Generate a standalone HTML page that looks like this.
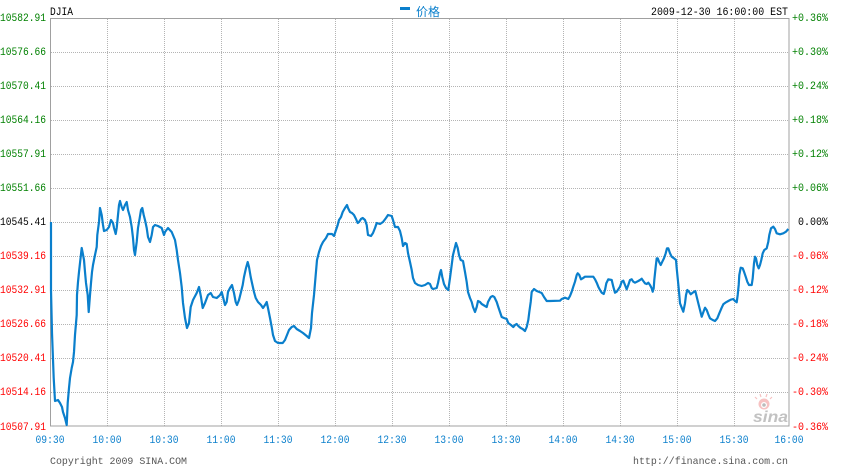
<!DOCTYPE html>
<html>
<head>
<meta charset="utf-8">
<style>
html,body{margin:0;padding:0;background:#fff;}
body{width:850px;height:468px;overflow:hidden;}
svg{display:block;}
text{font-family:"Liberation Mono","DejaVu Sans Mono",monospace;font-size:11px;}
</style>
</head>
<body>
<svg width="850" height="468" viewBox="0 0 850 468" xmlns="http://www.w3.org/2000/svg">
<rect x="0" y="0" width="850" height="468" fill="#fff"/>
<!-- grid -->
<g stroke="#b4b4b4" stroke-width="1" stroke-dasharray="1,1" shape-rendering="crispEdges" fill="none">
<path d="M51 52.5H789M51 86.5H789M51 120.5H789M51 154.5H789M51 188.5H789M51 222.5H789M51 256.5H789M51 290.5H789M51 324.5H789M51 358.5H789M51 392.5H789"/>
<path d="M107.5 19V426M164.5 19V426M221.5 19V426M278.5 19V426M335.5 19V426M392.5 19V426M449.5 19V426M506.5 19V426M563.5 19V426M620.5 19V426M677.5 19V426M734.5 19V426"/>
</g>
<!-- border -->
<rect x="50.5" y="18.5" width="738.5" height="407.5" fill="none" stroke="#a0a0a0" stroke-width="1" shape-rendering="crispEdges"/>

<!-- watermark -->
<g opacity="0.85">
<circle cx="764" cy="404" r="5.5" fill="#f6b8b8"/>
<circle cx="764" cy="405" r="3" fill="#ffffff"/>
<circle cx="764" cy="405" r="1.8" fill="#b0b0b0"/>
<path d="M757 399l-2-2M761 397l-1-3M766 397l1-3M770 399l2-2" stroke="#f6b8b8" stroke-width="1.2"/>
<text x="753" y="422" style="font-family:'Liberation Sans',sans-serif;font-size:16px;font-weight:bold;font-style:italic;" fill="#b8b8b8" textLength="35" lengthAdjust="spacingAndGlyphs">sina</text>
</g>

<!-- price line -->
<polyline fill="none" stroke="#0a7fcc" stroke-width="2.2" stroke-linejoin="round" points="51,222 51,290 52,333 53.7,378 55,401 58,400 60,403 62,407 63,412 65,418 66.7,425 67.7,403 69,388 70,378 71.7,368 73,362 74,352 75,335 76.7,315 77,295 78,282 79,272 80,263 81.7,248 82.7,253 84,260 85,272 86,283 87.7,295 88.7,312 90,295 91,283 92,272 93,265 95,255 96.7,247 97.3,235 99,222 100,208 101.7,215 103,225 104,231 106.7,230 109,227 111,220 113,223 114,228 115.7,234 116.7,228 118,215 119,205 120,201 121.7,207 123,210 125,205 126.7,202 128,210 130,217 131.7,227 133,238 134,250 135,255 136.7,242 138,228 139.7,218 141,210 142.3,208 143.7,215 145,220 146.7,228 148,237 150,242 151.7,235 153,227 155,225 158,226 161.7,228 164,235 165,232 168,228 171.7,232 175,240 176.7,250 178,260 180,273 181.7,287 183,303 185,318 187,328 189,323 190.7,307 193,300 196.7,293 199,287 201,297 202.7,308 205,303 208,295 210.7,293 213,297 216.7,298 219,296 220,295 221.7,292 223,297 225,305 226.7,302 228,292 230,288 232,285 234,293 235.7,302 237,305 239,300 241,292 242.7,285 244,277 246,268 247.7,262 249,267 250.7,277 252,283 254,292 255.7,298 258,302 261,305 263,308 265,305 266.7,302 268,308 270,318 271.7,327 273,335 275,341 278,343 282.7,343 285,340 287,335 289,330 291.7,327 294,326 296.7,329 300,331 303,333 306.7,336 309,338 311,328 312,313 314,295 315.7,275 317,260 319,252 321,246 323,242 326,238 328,234 332,234 334,236 336,230 337.7,225 339,220 341,217 342.7,212 345,208 347,205 348,208 350,212 352,213 354,215 356,219 357.7,223 359,222 361,219 362.7,218 365,220 366.7,225 368,235 371,236 373,233 375,228 376.7,223 380,224 383,222 386,218 388,215 391.7,216 393,220 395,227 398,227 400,231 401.7,238 403,246 405,243 406.7,244 408,253 410,262 411.7,270 413,278 415,283 418,285 421.7,286 425,285 428,283 430,284 431.7,288 433,289 436.7,288 438,283 440,273 441,270 442.3,277 444,284 446,288 448.3,290 450,278 451.7,265 453,255 455,247 456,243 457.7,248 459,255 460.7,260 463,261 465,272 466.7,282 468,292 470,298 471.7,302 473,307 475,312 476.7,307 478,301 480,302 481.7,304 485,306 486.7,307 488,302 490.7,297 492.7,296 494.3,297 496.7,302 498.3,307 500,312 501.7,317 504,318 506.7,319 508.3,323 511,325 513.3,327 515,325 516.7,324 518.3,326 520.7,328 522.7,329 525,331 526.7,327 528.3,320 529.3,312 530.7,302 531.7,292 534,289 536.7,291 539.3,292 541.7,293 544,297 546.7,301 550,301 560,300.7 561.7,299 565,297.7 568.3,299 570,296 571.7,291.7 573.3,286.7 575,281.7 576.7,275 577.7,273.3 579.3,275 581,279.3 582.7,278.3 585,276.7 593.3,276.7 595,279.3 596.7,282.7 598.3,286.7 600,290 601.7,292.7 603.7,294 605,290 606.3,283.3 608.3,279.3 611.7,280 613.3,286.7 615,292.7 616.7,291.7 618.3,289.3 620,286.7 621.7,281.7 623.3,280.7 625,285 626.7,289.3 628.3,285 630,280 631.7,279.3 633.3,281.7 635,282.7 638.3,281 640,280 641.7,278.7 643.3,281 645,283.3 646.7,284 648.3,282.7 650,285 651.7,288.3 652.7,291.7 653.7,288.3 654.3,280 655.7,266.7 656.7,258.3 657.7,258.3 659,261.7 660.7,265 662.3,261.7 664,258.3 665.7,253.3 667,248.3 668.3,248.3 670,253.3 671.7,256.7 674,258.3 676,260 676.7,268.3 677.7,278.3 678.7,288.3 680,303.3 681.7,307.7 683.3,311.7 685,303.3 686,295 687.3,290 689,291.7 690.7,294.3 693.3,292.3 695.3,291 696.7,296.7 698.3,303.3 700,310 701.7,316.7 703.3,312.3 705,307.7 706.7,310 708.3,314.3 710,318.3 712.7,320 715,321 717.3,318.3 719.3,313.3 721.7,307.7 723.3,304.3 726,302.3 728.3,301 730.7,299.7 733.3,299 735,301 736.7,302.3 737.7,295 738.7,285 739.3,275 740.7,267.7 742.7,268.3 744,271.7 745.7,276.7 747.3,281.7 749,285 751.7,285 752.7,278.3 754,263.3 755,256.7 756,258.3 757.3,265 758.7,268.3 760,265 761.3,260 762.7,253.3 764.3,250 766.7,248.3 768.3,241.7 769.3,235 771,228.3 773.3,226.7 775,229 776.7,233.3 780,234.3 783.3,233.3 786,231.7 788.3,229"/>

<!-- header -->
<text x="50" y="15" fill="#000" textLength="23" lengthAdjust="spacingAndGlyphs">DJIA</text>
<rect x="400" y="7" width="10" height="3" fill="#0a7fcc"/>
<text x="416" y="16" fill="#0a7fcc" style="font-family:'Liberation Sans','Noto Sans CJK SC',sans-serif;font-size:12px;">价格</text>
<text x="651" y="15" fill="#000" textLength="137" lengthAdjust="spacingAndGlyphs">2009-12-30 16:00:00 EST</text>

<!-- left axis labels -->
<g text-anchor="end">
<text x="46" y="21" fill="#008000" textLength="46" lengthAdjust="spacingAndGlyphs">10582.91</text>
<text x="46" y="55" fill="#008000" textLength="46" lengthAdjust="spacingAndGlyphs">10576.66</text>
<text x="46" y="89" fill="#008000" textLength="46" lengthAdjust="spacingAndGlyphs">10570.41</text>
<text x="46" y="123" fill="#008000" textLength="46" lengthAdjust="spacingAndGlyphs">10564.16</text>
<text x="46" y="157" fill="#008000" textLength="46" lengthAdjust="spacingAndGlyphs">10557.91</text>
<text x="46" y="191" fill="#008000" textLength="46" lengthAdjust="spacingAndGlyphs">10551.66</text>
<text x="46" y="225" fill="#000000" textLength="46" lengthAdjust="spacingAndGlyphs">10545.41</text>
<text x="46" y="259" fill="#ff0000" textLength="46" lengthAdjust="spacingAndGlyphs">10539.16</text>
<text x="46" y="293" fill="#ff0000" textLength="46" lengthAdjust="spacingAndGlyphs">10532.91</text>
<text x="46" y="327" fill="#ff0000" textLength="46" lengthAdjust="spacingAndGlyphs">10526.66</text>
<text x="46" y="361" fill="#ff0000" textLength="46" lengthAdjust="spacingAndGlyphs">10520.41</text>
<text x="46" y="395" fill="#ff0000" textLength="46" lengthAdjust="spacingAndGlyphs">10514.16</text>
<text x="46" y="430" fill="#ff0000" textLength="46" lengthAdjust="spacingAndGlyphs">10507.91</text>
</g>

<!-- right axis labels -->
<g>
<text x="792" y="21" fill="#008000" textLength="36" lengthAdjust="spacingAndGlyphs">+0.36%</text>
<text x="792" y="55" fill="#008000" textLength="36" lengthAdjust="spacingAndGlyphs">+0.30%</text>
<text x="792" y="89" fill="#008000" textLength="36" lengthAdjust="spacingAndGlyphs">+0.24%</text>
<text x="792" y="123" fill="#008000" textLength="36" lengthAdjust="spacingAndGlyphs">+0.18%</text>
<text x="792" y="157" fill="#008000" textLength="36" lengthAdjust="spacingAndGlyphs">+0.12%</text>
<text x="792" y="191" fill="#008000" textLength="36" lengthAdjust="spacingAndGlyphs">+0.06%</text>
<text x="798" y="225" fill="#000000" textLength="30" lengthAdjust="spacingAndGlyphs">0.00%</text>
<text x="792" y="259" fill="#ff0000" textLength="36" lengthAdjust="spacingAndGlyphs">-0.06%</text>
<text x="792" y="293" fill="#ff0000" textLength="36" lengthAdjust="spacingAndGlyphs">-0.12%</text>
<text x="792" y="327" fill="#ff0000" textLength="36" lengthAdjust="spacingAndGlyphs">-0.18%</text>
<text x="792" y="361" fill="#ff0000" textLength="36" lengthAdjust="spacingAndGlyphs">-0.24%</text>
<text x="792" y="395" fill="#ff0000" textLength="36" lengthAdjust="spacingAndGlyphs">-0.30%</text>
<text x="792" y="430" fill="#ff0000" textLength="36" lengthAdjust="spacingAndGlyphs">-0.36%</text>
</g>

<!-- time labels -->
<g fill="#0a7fcc" text-anchor="middle">
<text x="50" y="443" textLength="29" lengthAdjust="spacingAndGlyphs">09:30</text>
<text x="107" y="443" textLength="29" lengthAdjust="spacingAndGlyphs">10:00</text>
<text x="164" y="443" textLength="29" lengthAdjust="spacingAndGlyphs">10:30</text>
<text x="221" y="443" textLength="29" lengthAdjust="spacingAndGlyphs">11:00</text>
<text x="278" y="443" textLength="29" lengthAdjust="spacingAndGlyphs">11:30</text>
<text x="335" y="443" textLength="29" lengthAdjust="spacingAndGlyphs">12:00</text>
<text x="392" y="443" textLength="29" lengthAdjust="spacingAndGlyphs">12:30</text>
<text x="449" y="443" textLength="29" lengthAdjust="spacingAndGlyphs">13:00</text>
<text x="506" y="443" textLength="29" lengthAdjust="spacingAndGlyphs">13:30</text>
<text x="563" y="443" textLength="29" lengthAdjust="spacingAndGlyphs">14:00</text>
<text x="620" y="443" textLength="29" lengthAdjust="spacingAndGlyphs">14:30</text>
<text x="677" y="443" textLength="29" lengthAdjust="spacingAndGlyphs">15:00</text>
<text x="734" y="443" textLength="29" lengthAdjust="spacingAndGlyphs">15:30</text>
<text x="789" y="443" textLength="29" lengthAdjust="spacingAndGlyphs">16:00</text>
</g>

<!-- footer -->
<text x="50" y="464" fill="#555" style="font-size:10.5px" textLength="137" lengthAdjust="spacingAndGlyphs">Copyright 2009 SINA.COM</text>
<text x="633" y="464" fill="#555" style="font-size:10.5px" textLength="155" lengthAdjust="spacingAndGlyphs">http://finance.sina.com.cn</text>
</svg>
</body>
</html>
